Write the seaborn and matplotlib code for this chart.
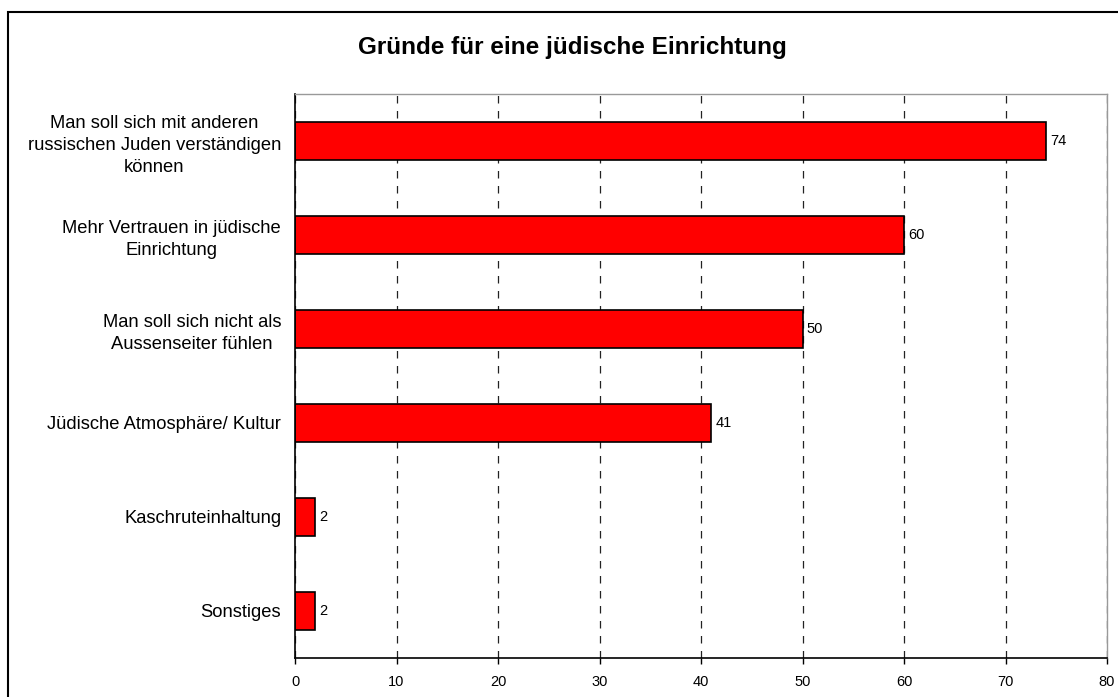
import matplotlib
matplotlib.use("Agg")
import matplotlib.pyplot as plt
import seaborn as sns
import pandas as pd
from matplotlib.patches import Rectangle

categories = [
    "Man soll sich mit anderen\nrussischen Juden verständigen\nkönnen",
    "Mehr Vertrauen in jüdische\nEinrichtung",
    "Man soll sich nicht als\nAussenseiter fühlen",
    "Jüdische Atmosphäre/ Kultur",
    "Kaschruteinhaltung",
    "Sonstiges",
]
values = [74, 60, 50, 41, 2, 2]
x_ticks = [0, 10, 20, 30, 40, 50, 60, 70, 80]
title = "Gründe für eine jüdische Einrichtung"

df = pd.DataFrame({"Grund": categories, "Prozent": values})

sns.set_style("white")
plt.rcParams["font.family"] = ["Liberation Sans", "DejaVu Sans"]
plt.rcParams["text.color"] = "black"

fig = plt.figure(figsize=(11.18, 6.97), dpi=100)
ax = fig.add_axes([0.2639, 0.0560, 0.7263, 0.8092])

sns.barplot(data=df, x="Prozent", y="Grund", ax=ax, color="#ff0000",
            saturation=1, width=0.4, edgecolor="black", linewidth=1.2)

ax.set_xlim(0, 80)
ax.set_ylim(len(categories) - 0.5, -0.5)
ax.set_xticks(x_ticks)
ax.set_xticklabels([str(t) for t in x_ticks], fontsize=10.5)
ax.tick_params(axis="y", labelsize=13.2, length=0, pad=10, colors="black")
ax.tick_params(axis="x", length=4, direction="out", bottom=True, pad=8, width=1, colors="black")
for lbl in ax.get_yticklabels():
    lbl.set_multialignment("center")
    lbl.set_linespacing(1.4)
ax.set_xlabel("")
ax.set_ylabel("")

ax.xaxis.grid(True, linestyle=(0, (6, 6)), color="#222222", linewidth=0.9)
ax.set_axisbelow(True)

for side in ["left", "bottom"]:
    ax.spines[side].set_color("black")
    ax.spines[side].set_linewidth(1.2)
for side in ["top", "right"]:
    ax.spines[side].set_color("#999999")
    ax.spines[side].set_linewidth(1.0)

for i, v in enumerate(values):
    ax.text(v + 0.4, i, str(v), va="center", ha="left", fontsize=10.5, color="black")

fig.text(0.512, 0.932, title, ha="center", va="center", fontsize=17.5,
         fontweight="bold", color="black")

frame = Rectangle((8 / 1118, -0.1), 1.2, 1 - 12 / 697 + 0.1, transform=fig.transFigure,
                  fill=False, edgecolor="black", linewidth=1.5)
fig.patches.append(frame)

fig.savefig("out.png", dpi=100)
